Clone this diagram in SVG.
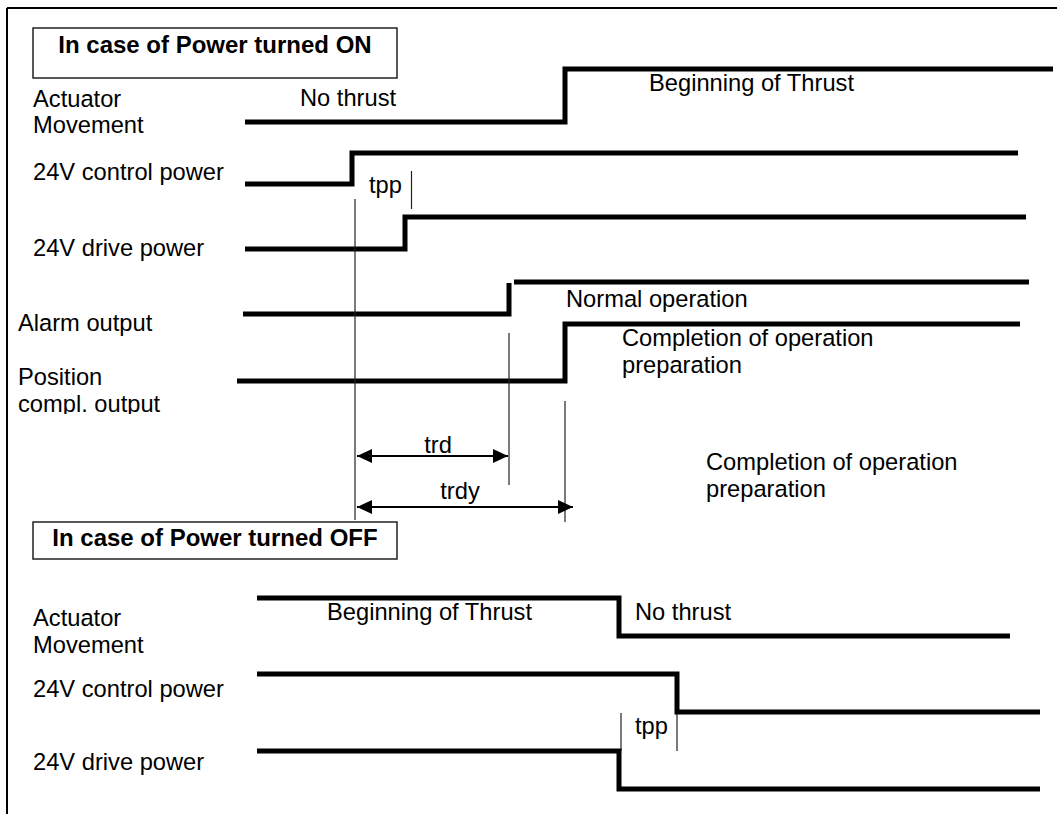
<svg xmlns="http://www.w3.org/2000/svg" width="1057" height="814" viewBox="0 0 1057 814">
<style>
text{font-family:"Liberation Sans",Arial,sans-serif;font-size:23.7px;fill:#000}
.hdr{font-weight:bold;font-size:24px;text-anchor:middle}
.sig{fill:none;stroke:#000;stroke-width:5;stroke-linejoin:miter}
.thin{stroke:#222;stroke-width:1.2;fill:none}
.box{fill:#fff;stroke:#222;stroke-width:1.5}
.dim{stroke:#000;stroke-width:2;fill:none}
</style>
<defs>
<marker id="ah" viewBox="0 0 15 14" refX="15" refY="7" markerWidth="15" markerHeight="14" markerUnits="userSpaceOnUse" orient="auto-start-reverse">
<path d="M0,0 L15,7 L0,14 Z" fill="#000"/>
</marker>
<clipPath id="clipbot"><rect x="0" y="0" width="1057" height="414"/></clipPath>
</defs>
<g id="frame">
<path d="M7,8 H1057 M7,8 V814" stroke="#000" stroke-width="2" fill="none"/>
</g>
<g id="header-on">
<rect class="box" x="33" y="28" width="364" height="50"/>
<text class="hdr" x="215" y="53">In case of Power turned ON</text>
</g>
<g id="labels-on">
<text x="33" y="107">Actuator</text>
<text x="33" y="133">Movement</text>
<text x="33" y="180">24V control power</text>
<text x="33" y="256">24V drive power</text>
<text x="18" y="331">Alarm output</text>
<g clip-path="url(#clipbot)">
<text x="18" y="385">Position</text>
<text x="18" y="412">compl. output</text>
</g>
</g>
<g id="signals-on">
<path class="sig" d="M245,122 H565 V69 H1053"/>
<path class="sig" d="M245,184 H352 V153 H1018"/>
<path class="sig" d="M245,249 H405 V217 H1026"/>
<path class="sig" d="M243,314 H509 V283 M514,282 H1029"/>
<path class="sig" d="M237,381 H565 V324 H1020"/>
</g>
<g id="annotations-on">
<text x="300" y="106">No thrust</text>
<text x="649" y="91">Beginning of Thrust</text>
<text x="369" y="193">tpp</text>
<text x="566" y="307">Normal operation</text>
<text x="622" y="346">Completion of operation</text>
<text x="622" y="373">preparation</text>
<text x="706" y="470">Completion of operation</text>
<text x="706" y="497">preparation</text>
</g>
<g id="connectors">
<line class="thin" x1="355" y1="199" x2="355" y2="520"/>
<line class="thin" x1="411.5" y1="171" x2="411.5" y2="209"/>
<line class="thin" x1="509" y1="333" x2="509" y2="485"/>
<line class="thin" x1="565" y1="401" x2="565" y2="522"/>
<line class="dim" x1="357" y1="456" x2="508" y2="456" marker-start="url(#ah)" marker-end="url(#ah)"/>
<line class="dim" x1="357" y1="507" x2="573" y2="507" marker-start="url(#ah)" marker-end="url(#ah)"/>
<line class="thin" x1="621" y1="713" x2="621" y2="751"/>
<line class="thin" x1="677" y1="712" x2="677" y2="751"/>
</g>
<g id="dims">
<text x="438" y="453" text-anchor="middle">trd</text>
<text x="460" y="499" text-anchor="middle">trdy</text>
</g>
<g id="header-off">
<rect class="box" x="33" y="522" width="364" height="37"/>
<text class="hdr" x="215" y="546">In case of Power turned OFF</text>
</g>
<g id="labels-off">
<text x="33" y="626">Actuator</text>
<text x="33" y="653">Movement</text>
<text x="33" y="697">24V control power</text>
<text x="33" y="770">24V drive power</text>
</g>
<g id="signals-off">
<path class="sig" d="M257,598 H619 V636 H1010"/>
<path class="sig" d="M257,674 H677 V712 H1040"/>
<path class="sig" d="M257,751 H619 V789 H1040"/>
</g>
<g id="annotations-off">
<text x="327" y="620">Beginning of Thrust</text>
<text x="635" y="620">No thrust</text>
<text x="635" y="734">tpp</text>
</g>
</svg>
